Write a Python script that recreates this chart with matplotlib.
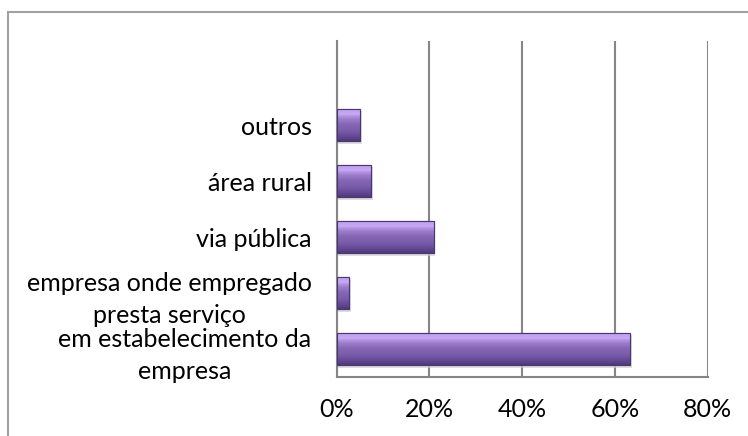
import numpy as np
import matplotlib
matplotlib.use("Agg")
from matplotlib import pyplot as plt
from matplotlib.colors import LinearSegmentedColormap
from matplotlib.patches import Rectangle

# data (the chart keeps one empty slot above "outros")
categories = ["em estabelecimento da\nempresa",
              "empresa onde empregado\npresta serviço",
              "via pública",
              "área rural",
              "outros"]
values = [63.3, 2.7, 21.0, 7.45, 5.1]
xticks = [0, 20, 40, 60, 80]
xtick_labels = ["0%", "20%", "40%", "60%", "80%"]

plt.rcParams["font.family"] = ["Lato", "DejaVu Sans"]

fig = plt.figure(figsize=(7.48, 4.36), dpi=100)
ax = fig.add_axes([0.450, 0.135, 0.496, 0.771])

# outer chart frame
fig.patches.append(Rectangle((7.5 / 748, -0.5), 2, 1.5 - 12.5 / 436,
                             transform=fig.transFigure, fill=False,
                             edgecolor="#a0a0a0", linewidth=1.5))

y = np.arange(len(categories))
bars = ax.barh(y, values, height=0.58, color="#7d5fab",
               edgecolor="#4f3a7a", linewidth=0.8, zorder=3)

# bevel-like vertical gradient on each bar
cmap = LinearSegmentedColormap.from_list(
    "bevel", ["#4f3a7a", "#684c9a", "#7b5eab", "#8466b3", "#9c7dcd", "#c6a6f2", "#b08fdd"])
grad = np.linspace(0, 1, 64).reshape(-1, 1)
for b in bars:
    x0, y0, w, h = b.get_x(), b.get_y(), b.get_width(), b.get_height()
    # soft shadow
    ax.add_patch(Rectangle((x0 + 0.3, y0 - 0.04), w, h, facecolor="#d0d0d0",
                           edgecolor="none", zorder=2, alpha=0.7))
    im = ax.imshow(grad, cmap=cmap, aspect="auto", origin="lower",
                   extent=(x0, x0 + w, y0, y0 + h), zorder=3.5)
    im.set_clip_path(b)
    ax.add_patch(Rectangle((x0, y0 + h * 0.82), w, h * 0.18, facecolor="#c9aaf4",
                           edgecolor="none", zorder=3.6, alpha=0.5))
    ax.add_patch(Rectangle((x0, y0), w, h, facecolor="none",
                           edgecolor="#4a3672", linewidth=0.8, zorder=3.7))

ax.set_xlim(0, 80)
ax.set_ylim(-0.5, len(categories) + 0.5)
ax.set_xticks(xticks)
ax.set_xticklabels(xtick_labels)
ax.set_yticks(y)
ax.set_yticklabels(categories, multialignment="center", linespacing=1.45)

ax.tick_params(axis="both", length=0, labelsize=18, colors="black")
ax.tick_params(axis="x", pad=15)
ax.tick_params(axis="y", pad=18)

ax.grid(axis="x", color="#868686", linewidth=1.5, zorder=0)
ax.set_axisbelow(True)
for side in ["top", "right"]:
    ax.spines[side].set_visible(False)
for side in ["left", "bottom"]:
    ax.spines[side].set_color("#868686")
    ax.spines[side].set_linewidth(1.5)

fig.savefig("out.png", dpi=100)
